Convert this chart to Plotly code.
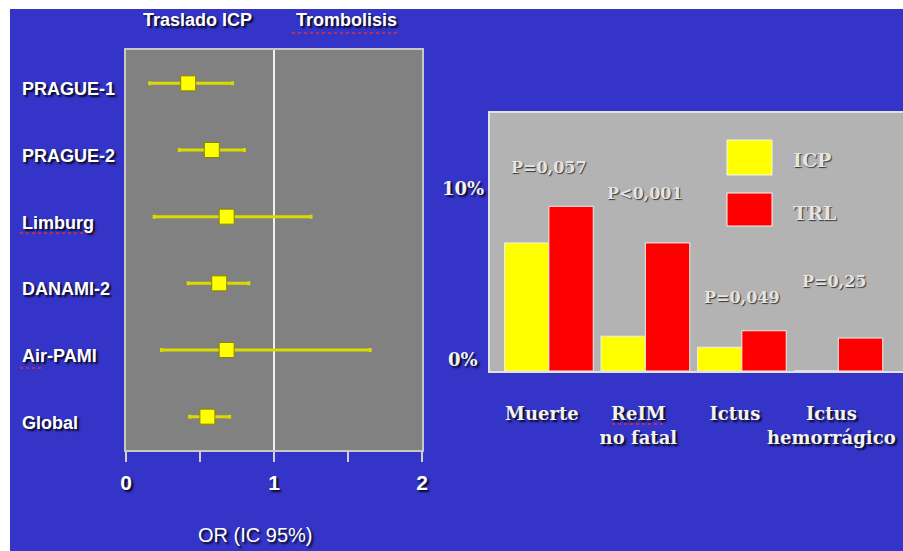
import plotly.graph_objects as go

# ---------------- data ----------------
studies = ["PRAGUE-1", "PRAGUE-2", "Limburg", "DANAMI-2", "Air-PAMI", "Global"]
or_est = [0.42, 0.58, 0.68, 0.63, 0.68, 0.55]
or_lo = [0.16, 0.36, 0.19, 0.42, 0.24, 0.43]
or_hi = [0.72, 0.80, 1.25, 0.83, 1.65, 0.70]
or_ticks = [0, 0.5, 1, 1.5, 2]
or_ticktext = ["0", "", "1", "", "2"]
header_left = "Traslado ICP"
header_right = "Trombolisis"

outcomes = ["Muerte", "ReIM<br>no fatal", "Ictus", "Ictus<br>hemorrágico"]
icp = [7.0, 1.9, 1.3, 0.0]
trl = [9.0, 7.0, 2.2, 1.8]
pvals = ["P=0,057", "P<0,001", "P=0,049", "P=0,25"]
pval_y = [11.1, 9.7, 4.0, 4.9]
pct_ticks = [0, 10]
pct_text = ["0%", "10%"]

W, H = 903, 551
def fx(px):
    return px / W
def fy(py):
    return 1 - py / H

BLUE = "#3434C8"
WHITE_SHADOW = "2px 2px 2px rgba(0,0,0,0.85)"
EMBOSS = "1px 1px 1px rgba(40,40,40,0.9)"
sans = "Liberation Sans"
serif = "DejaVu Serif"

fig = go.Figure()

# forest plot
fig.add_trace(go.Scatter(
    x=or_est, y=studies, mode="markers",
    marker=dict(symbol="square", size=15, color="#FFFF00",
                line=dict(color="#8A8500", width=1)),
    error_x=dict(type="data", symmetric=False,
                 array=[h - e for h, e in zip(or_hi, or_est)],
                 arrayminus=[e - l for e, l in zip(or_est, or_lo)],
                 color="#DADA00", thickness=3, width=2),
    xaxis="x", yaxis="y", showlegend=False, hoverinfo="skip"))

# bar chart
fig.add_trace(go.Bar(x=outcomes, y=icp, name="ICP", marker=dict(color="#FFFF00", line=dict(color="#EEEEEE", width=1)),
                     xaxis="x2", yaxis="y2", showlegend=False))
fig.add_trace(go.Bar(x=outcomes, y=trl, name="TRL", marker=dict(color="#FF0000", line=dict(color="#EEEEEE", width=1)),
                     xaxis="x2", yaxis="y2", showlegend=False))

def squiggle(x0, x1, y):
    return dict(type="line", xref="paper", yref="paper", x0=fx(x0), x1=fx(x1), y0=fy(y), y1=fy(y),
                line=dict(color="#E03030", width=1.5, dash="dot"))

shapes = [
    dict(type="rect", xref="paper", yref="paper", x0=fx(10), x1=1, y0=0, y1=fy(9),
         fillcolor=BLUE, line=dict(width=0), layer="below"),
    dict(type="rect", xref="x domain", yref="y domain", x0=0, x1=1, y0=0, y1=1,
         fillcolor="#818181", line=dict(width=0), layer="below"),
    dict(type="rect", xref="x2 domain", yref="y2 domain", x0=0, x1=1, y0=0, y1=1,
         fillcolor="#B3B3B3", line=dict(width=0), layer="below"),
    dict(type="line", xref="x", yref="y domain", x0=1, x1=1, y0=0, y1=1,
         line=dict(color="#F0F0F0", width=2), layer="below"),
    # legend swatches
    dict(type="rect", xref="paper", yref="paper", x0=fx(727), x1=fx(772), y0=fy(175), y1=fy(140),
         fillcolor="#FFFF00", line=dict(color="#F4F4F4", width=1)),
    dict(type="rect", xref="paper", yref="paper", x0=fx(727), x1=fx(772), y0=fy(226), y1=fy(193),
         fillcolor="#FF0000", line=dict(color="#F4F4F4", width=1)),
    # spell-check underlines seen in the slide
    squiggle(292, 400, 33),
    squiggle(20, 96, 233),
    squiggle(20, 43, 368),
    squiggle(612, 665, 424),
]

ann = []
for s in studies:
    ann.append(dict(x=fx(20), xref="paper", y=s, yref="y", text=s, showarrow=False,
                    xanchor="left", yanchor="middle", yshift=-6,
                    font=dict(family=sans, size=18, color="white", weight="bold", shadow=WHITE_SHADOW)))
ann.append(dict(x=0.48, xref="x", y=fy(20), yref="paper", text=header_left, showarrow=False,
                xanchor="center", yanchor="middle",
                font=dict(family=sans, size=18, color="white", weight="bold", shadow=WHITE_SHADOW)))
ann.append(dict(x=1.49, xref="x", y=fy(20), yref="paper", text=header_right, showarrow=False,
                xanchor="center", yanchor="middle",
                font=dict(family=sans, size=18, color="white", weight="bold", shadow=WHITE_SHADOW)))
ann.append(dict(x=fx(255), xref="paper", y=fy(535), yref="paper", text="OR (IC 95%)", showarrow=False,
                xanchor="center", yanchor="middle",
                font=dict(family=sans, size=20, color="white", shadow=WHITE_SHADOW)))

for i, (p, py) in enumerate(zip(pvals, pval_y)):
    ann.append(dict(x=i if i < 3 else i - 0.05, xref="x2", y=py, yref="y2", text=p, showarrow=False,
                    xanchor="center", yanchor="middle",
                    font=dict(family=serif, size=16, color="#E4E4E4", weight="bold", shadow=EMBOSS)))
for v, t in zip(pct_ticks, pct_text):
    ann.append(dict(x=fx(463), xref="paper", y=v, yref="y2", text=t, showarrow=False,
                    xanchor="center", yanchor="middle", yshift=12 if v == 0 else 0,
                    font=dict(family=serif, size=18, color="#F2F2F2", weight="bold", shadow=WHITE_SHADOW)))
for name, py in [("ICP", 160), ("TRL", 213)]:
    ann.append(dict(x=fx(791), xref="paper", y=fy(py), yref="paper", text=name, showarrow=False,
                    xanchor="left", yanchor="middle",
                    font=dict(family=serif, size=19, color="#E4E4E4", weight="bold", shadow=EMBOSS)))

fig.update_layout(
    width=W, height=H, autosize=False,
    margin=dict(l=0, r=0, t=0, b=0, pad=0),
    paper_bgcolor="white",
    plot_bgcolor="rgba(0,0,0,0)",
    barmode="group", bargap=0.08, bargroupgap=0,
    shapes=shapes, annotations=ann,
    xaxis=dict(domain=[fx(126), fx(422)], range=[0, 2], tickvals=or_ticks, ticktext=or_ticktext,
               ticks="outside", ticklen=10, tickwidth=2, tickcolor="#D0D0D0",
               showline=True, mirror=True, linecolor="#C8C8C8", linewidth=2,
               showgrid=False, zeroline=False, ticklabelstandoff=3, automargin=False,
               tickfont=dict(family=sans, size=21, color="white", weight="bold", shadow=WHITE_SHADOW),
               anchor="y"),
    yaxis=dict(domain=[fy(450), fy(50)], range=[5.5, -0.5], type="category",
               showticklabels=False, ticks="", showgrid=False, zeroline=False, automargin=False,
               showline=True, mirror=True, linecolor="#C8C8C8", linewidth=2, anchor="x"),
    xaxis2=dict(domain=[fx(490), 1.0], range=[-0.61, 3.67], type="category",
                ticks="", showgrid=False, zeroline=False, automargin=False,
                showline=True, mirror=True, linecolor="#E2E2E2", linewidth=1.5,
                ticklabelstandoff=26, ticklabelshift=-7,
                tickfont=dict(family=serif, size=18, color="#F2F2F2", weight="bold", shadow=WHITE_SHADOW),
                anchor="y2"),
    yaxis2=dict(domain=[fy(371), fy(113)], range=[0, 14.1], showticklabels=False, ticks="",
                showgrid=False, zeroline=False, automargin=False,
                showline=True, mirror=True, linecolor="#E2E2E2", linewidth=1.5, anchor="x2"),
)

fig.write_html(
    "out.html",
    config={"responsive": False, "displayModeBar": False},
    post_script="document.body.style.margin='0';document.body.style.overflow='hidden';",
)
